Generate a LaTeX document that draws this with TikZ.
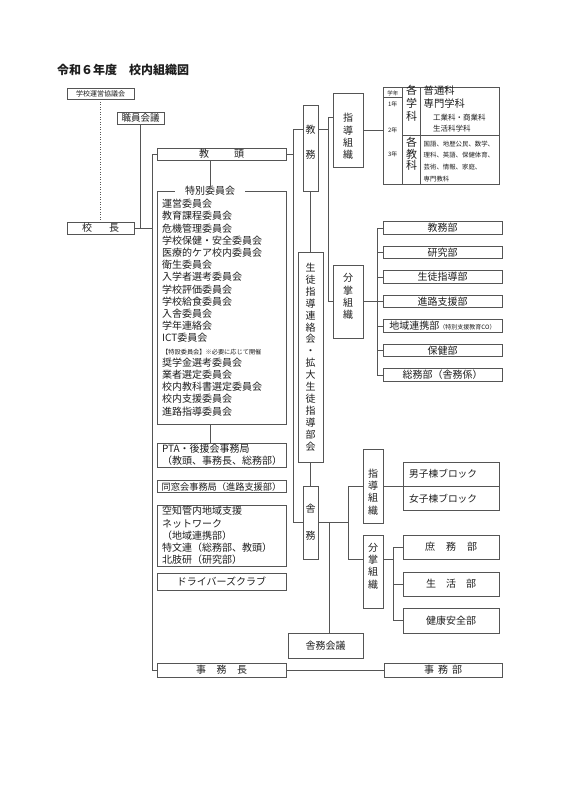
\documentclass[tikz,border=0pt]{standalone}
\usepackage{fontspec}
\setmainfont{Noto Sans CJK JP}
\usepackage{tikz}
\definecolor{rulegray}{HTML}{555555}
\definecolor{ink}{HTML}{1E1E1E}

\begin{document}
\begin{tikzpicture}[x=1pt,y=-1pt,
  box/.style={draw=rulegray,line width=0.8pt,inner sep=0pt,text=ink,font=\fontsize{10}{12}\selectfont},
  tate/.style={box,align=center,font=\fontsize{10}{12.3}\selectfont},
  tatetext/.style={plain,align=center,font=\fontsize{10}{12.3}\selectfont},
  listbox/.style={box,text width=119pt,inner xsep=5pt,align=left,font=\fontsize{10}{12.2}\selectfont},
  wire/.style={draw=rulegray,line width=0.8pt},
  plain/.style={inner sep=0pt,text=ink}]
  \useasboundingbox (0,0) rectangle (566,800);
  \node[plain,anchor=west,font=\fontsize{12}{14}\selectfont\bfseries] (title) at (57,70) {令和６年度　校内組織図};

  % left column
  \node[box,minimum width=67pt,minimum height=11pt,font=\fontsize{7}{8}\selectfont] (kyogikai) at (100.5,93.5) {学校運営協議会};
  \node[box,minimum width=47pt,minimum height=12pt,font=\fontsize{9.5}{11}\selectfont] (shokuin) at (140.5,118) {職員会議};
  \node[box,minimum width=67pt,minimum height=12pt] (kocho) at (100.5,228) {校\hspace{17pt}長};
  \node[box,minimum width=129pt,minimum height=12pt] (kyoto) at (221.5,154) {教\hspace{25pt}頭};
  \node[box,minimum width=129pt,minimum height=233pt] (tokubetsu) at (221.5,307.5) {};
  \node[plain,fill=white,inner xsep=10pt,font=\fontsize{10}{12}\selectfont] (tokutitle) at (210,191) {特別委員会};
  \node[plain,anchor=north west,align=left,font=\fontsize{10}{12.2}\selectfont] (tokulist) at (162,199) {%
    運営委員会\\教育課程委員会\\危機管理委員会\\学校保健・安全委員会\\医療的ケア校内委員会\\
    衛生委員会\\入学者選考委員会\\学校評価委員会\\学校給食委員会\\入舎委員会\\学年連絡会\\ICT委員会\\
    {\fontsize{6.2}{12.2}\selectfont 【特設委員会】※必要に応じて開催}\\
    奨学金選考委員会\\業者選定委員会\\校内教科書選定委員会\\校内支援委員会\\進路指導委員会};
  \node[listbox,minimum height=24pt] (pta) at (221.5,455) {PTA・後援会事務局\\（教頭、事務長、総務部）};
  \node[box,minimum width=129pt,minimum height=12pt,font=\fontsize{9.2}{11}\selectfont] (dosokai) at (221.5,486.5) {同窓会事務局（進路支援部）};
  \node[listbox,minimum height=61pt] (sorachi) at (221.5,535.5) {空知管内地域支援\\ネットワーク\\（地域連携部）\\特文連（総務部、教頭）\\北肢研（研究部）};
  \node[box,minimum width=129pt,minimum height=17pt] (driver) at (221.5,581.5) {ドライバーズクラブ};
  \node[box,minimum width=129pt,minimum height=14pt] (jimucho) at (221.5,670) {事\hspace{10.5pt}務\hspace{10.5pt}長};

  \draw[rulegray,line width=0.8pt,dash pattern=on 1pt off 1.5pt] (kyogikai.south) -- (kocho.north);
  \coordinate (lbus) at (152,154);
  \draw[wire] (kyoto.west) -- (lbus) |- (jimucho.west);
  \draw[wire] (kocho.east) -- (kocho.east -| lbus);
  \draw[wire] (shokuin.south) -- (shokuin.south |- kocho.east);
  \draw[wire] (tokutitle.north |- kyoto.south) -- (tokutitle.north);
  \draw[wire] (tokubetsu.south -| tokutitle) -- (pta.north -| tokutitle);

  % middle column
  \node[tate,minimum width=15pt,minimum height=86pt,label={[tatetext,yshift=5.5pt]center:{教\\[13pt]務}}] (kyomu) at (310.5,148) {};
  \node[tate,minimum width=25pt,minimum height=210pt,font=\fontsize{10}{11.9}\selectfont] (seito) at (310.5,357)
    {生\\徒\\指\\導\\連\\絡\\会\\・\\拡\\大\\生\\徒\\指\\導\\部\\会};
  \node[tate,minimum width=15pt,minimum height=73pt] (shamu) at (310.5,522.5) {舎\\[15pt]務};
  \node[box,minimum width=75pt,minimum height=25pt] (shakaigi) at (325.5,645.5) {舎務会議};
  \coordinate (mbus) at (293,129);
  \draw[wire] (kyomu.west |- mbus) -- (mbus) |- (shamu.west);
  \draw[wire] (kyoto.east) -- (kyoto.east -| mbus);
  \draw[wire] (kyomu.south) -- (seito.north);
  \draw[wire] (seito.south) -- (shamu.north);

  % kyomu side
  \node[tate,minimum width=30pt,minimum height=74pt,label={[tatetext,yshift=-6.5pt]center:{指\\導\\組\\織}}] (shido1) at (348,130) {};
  \node[tate,minimum width=30pt,minimum height=73pt,label={[tatetext,yshift=5pt]center:{分\\掌\\組\\織}}] (bunsho1) at (348,301.5) {};
  \coordinate (kbus) at (328,117);
  \draw[wire] (shido1.west |- kbus) -- (kbus) |- (bunsho1.west);
  \draw[wire] (kyomu.east |- mbus) -- (kbus |- mbus);

  \node[box,minimum width=116pt,minimum height=97pt] (gakka) at (441,135.5) {};
  \draw[wire] (shido1.east) -- (gakka.west |- shido1.east);
  \draw[wire] (402.7,87) -- (402.7,184) (420.7,87) -- (420.7,184) (383,97.3) -- (402.7,97.3) (402.7,135.7) -- (499,135.7);
  \node[plain,font=\fontsize{5.5}{6}\selectfont] at (392.8,93) {学年};
  \foreach \y/\g in {104.7/1年,130.7/2年,154/3年}
    \node[plain,font=\fontsize{6}{7}\selectfont] at (392.8,\y) {\g};
  \node[plain,align=center,font=\fontsize{11}{12.8}\selectfont] at (411.7,103.5) {各\\学\\科};
  \node[plain,align=center,font=\fontsize{11}{11.7}\selectfont] at (411.7,154) {各\\教\\科};
  \node[plain,anchor=west,font=\fontsize{10.3}{12}\selectfont] at (423.5,90.5) {普通科};
  \node[plain,anchor=west,font=\fontsize{10.3}{12}\selectfont] at (423.5,104) {専門学科};
  \node[plain,anchor=west,font=\fontsize{7.5}{9}\selectfont] at (433,117.3) {工業科・商業科};
  \node[plain,anchor=west,font=\fontsize{7.5}{9}\selectfont] at (433,129) {生活科学科};
  \node[plain,anchor=north west,align=left,font=\fontsize{6.4}{11.8}\selectfont] at (423.5,140.5)
    {国語、地歴公民、数学、\\理科、英語、保健体育、\\芸術、情報、家庭、\\専門教科};

  \foreach \n/\t [count=\i from 0] in {kyomubu/教務部,kenkyubu/研究部,seitobu/生徒指導部,shinrobu/進路支援部,
      chiikibu/{地域連携部{\fontsize{6}{7}\selectfont （特別支援教育CO）}},hokenbu/保健部,somubu/総務部（舎務係）}
    \node[box,minimum width=119pt,minimum height=12.5pt] (\n) at (442.5,{228+24.5*\i}) {\t};
  \coordinate (dbus) at (377,301.5);
  \draw[wire] (bunsho1.east) -- (dbus);
  \draw[wire] (dbus |- kyomubu.west) -- (dbus |- somubu.west);
  \foreach \n in {kyomubu,kenkyubu,seitobu,shinrobu,chiikibu,hokenbu,somubu}
    \draw[wire] (dbus |- \n.west) -- (\n.west);

  % shamu side
  \node[tate,minimum width=20pt,minimum height=74pt,label={[tatetext,yshift=-6pt]center:{指\\導\\組\\織}}] (shido2) at (373,486) {};
  \node[tate,minimum width=20pt,minimum height=73pt,label={[tatetext,yshift=5.5pt]center:{分\\掌\\組\\織}}] (bunsho2) at (373,571.5) {};
  \coordinate (sbus) at (348,559);
  \draw[wire] (shido2.west) -| (sbus) -- (sbus -| bunsho2.west);
  \draw[wire] (shamu.east) -- (shamu.east -| sbus);
  \draw[wire] ([xshift=3.5pt]shakaigi.north) -- ([xshift=3.5pt]shakaigi.north |- shamu.east);

  \node[box,minimum width=96pt,minimum height=48pt] (ryoto) at (451,486) {};
  \draw[wire] (shido2.east) -- (ryoto.east);
  \node[plain,anchor=west,font=\fontsize{9.7}{11}\selectfont] (danshi) at (409,474) {男子棟ブロック};
  \node[plain,anchor=west,font=\fontsize{9.7}{11}\selectfont] (joshi) at (409,498.5) {女子棟ブロック};

  \node[box,minimum width=96pt,minimum height=24pt] (shomu) at (451,547) {庶\hspace{11pt}務\hspace{11pt}部};
  \node[box,minimum width=96pt,minimum height=24pt] (seikatsu) at (451,584) {生\hspace{10pt}活\hspace{10pt}部};
  \node[box,minimum width=96pt,minimum height=25pt] (kenko) at (451,620.5) {健康安全部};
  \coordinate (hbus) at (393,559);
  \draw[wire] (bunsho2.east |- hbus) -- (hbus);
  \draw[wire] (hbus |- shomu.west) -- (hbus |- kenko.west);
  \foreach \n in {shomu,seikatsu,kenko}
    \draw[wire] (hbus |- \n.west) -- (\n.west);

  \node[box,minimum width=118pt,minimum height=14pt] (jimubu) at (443,670) {事\hspace{4pt}務\hspace{4pt}部};
  \draw[wire] (jimucho.east) -- (jimubu.west);
\end{tikzpicture}
\end{document}
